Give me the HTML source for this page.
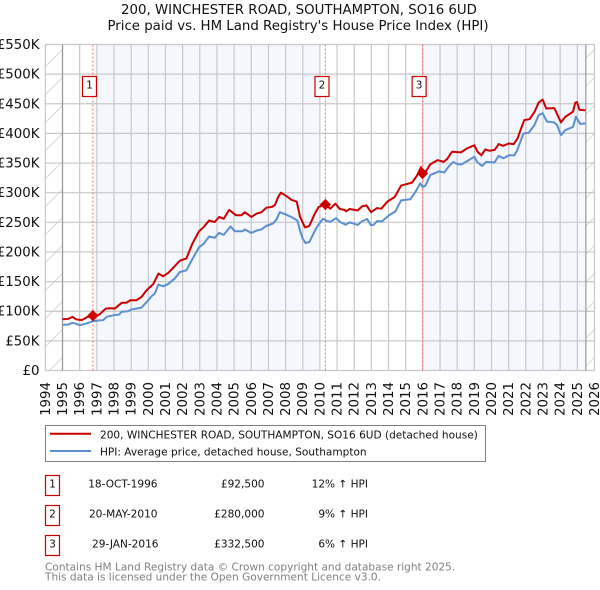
<!DOCTYPE html>
<html>
<head>
<meta charset="utf-8">
<title>200, WINCHESTER ROAD, SOUTHAMPTON, SO16 6UD</title>
<style>
html,body{margin:0;padding:0;background:#fff;}
body{width:600px;height:590px;overflow:hidden;}
svg{display:block;}
text{font-family:"DejaVu Sans","Liberation Sans",sans-serif;}
</style>
</head>
<body>
<svg id="chart" xmlns="http://www.w3.org/2000/svg" width="600" height="590" viewBox="0 0 600 590">
  <defs>
    <pattern id="hatch" patternUnits="userSpaceOnUse" width="28" height="28">
      <line x1="0" y1="28" x2="28" y2="0" stroke="#d8d8d8" stroke-width="1"/>
    </pattern>
  </defs>
  <text x="299" y="14" text-anchor="middle" font-size="13.33" fill="#111">200, WINCHESTER ROAD, SOUTHAMPTON, SO16 6UD</text>
  <text x="298" y="30" text-anchor="middle" font-size="13.33" fill="#111">Price paid vs. HM Land Registry's House Price Index (HPI)</text>
  <g id="bands"></g>
  <g id="grid"></g>
  <g id="saleLines"></g>
  <g id="series"></g>
  <g id="saleMarks"></g>
  <g id="ticks"></g>

  <rect x="45.5" y="425.5" width="440" height="36" fill="#fff" stroke="#808080" stroke-width="1"/>
  <line x1="50" y1="433.7" x2="91" y2="433.7" stroke="#cc0000" stroke-width="2"/>
  <text x="100" y="438.3" font-size="10.55" fill="#111">200, WINCHESTER ROAD, SOUTHAMPTON, SO16 6UD (detached house)</text>
  <line x1="50" y1="451" x2="91" y2="451" stroke="#5b8fd0" stroke-width="2"/>
  <text x="100" y="455.3" font-size="10.55" fill="#111">HPI: Average price, detached house, Southampton</text>

  <g id="saleTable" font-size="10.55" fill="#111"></g>

  <text x="45" y="570.5" font-size="10.55" fill="#808080">Contains HM Land Registry data © Crown copyright and database right 2025.</text>
  <text x="45" y="580.5" font-size="10.55" fill="#808080">This data is licensed under the Open Government Licence v3.0.</text>
</svg>
<script>
const yearTicks = [1994,1995,1996,1997,1998,1999,2000,2001,2002,2003,2004,2005,2006,2007,2008,2009,2010,2011,2012,2013,2014,2015,2016,2017,2018,2019,2020,2021,2022,2023,2024,2025,2026];
const priceTicks = [0,50,100,150,200,250,300,350,400,450,500,550];
const priceTickLabels = ["£0","£50K","£100K","£150K","£200K","£250K","£300K","£350K","£400K","£450K","£500K","£550K"];

const hpiDates = [1995,1995.33,1995.58,1995.78,1996,1996.36,1996.75,1997.17,1997.37,1997.6,1998.05,1998.3,1998.44,1998.83,1999.02,1999.41,1999.6,1999.89,2000.18,2000.38,2000.59,2000.86,2001.16,2001.54,2001.83,2002.22,2002.51,2002.96,2003.23,2003.54,2003.87,2004.13,2004.4,2004.79,2005.04,2005.52,2005.62,2006.01,2006.3,2006.59,2006.88,2007.27,2007.47,2007.66,2007.99,2008.34,2008.69,2008.86,2009,2009.16,2009.39,2009.54,2009.8,2010.07,2010.18,2010.42,2010.61,2010.94,2011.19,2011.49,2011.74,2012.05,2012.2,2012.46,2012.75,2012.98,2013.14,2013.33,2013.62,2014.03,2014.4,2014.73,2015.27,2015.56,2015.85,2015.99,2016.15,2016.44,2016.96,2017.25,2017.5,2017.76,2018.05,2018.24,2018.57,2019,2019.16,2019.45,2019.7,2020.17,2020.42,2020.71,2021,2021.33,2021.49,2021.68,2021.87,2022.17,2022.5,2022.75,2022.98,2023.23,2023.66,2023.82,2024.05,2024.3,2024.75,2024.92,2025.17,2025.47];
const hpiValues = [77,77.5,80.5,79,76.5,79,83,84.5,85,91,93.5,94.5,99,100,103,105,106,115,125,130,145,142,146,155,166,169,185,208,214,226,224,232,229,243,235,235,238,232,236,238,244,248,255,267,263.5,259,253,234,222.5,215,217,226,241,252,256,252,251,257,250.5,246,250,247,245.5,252,255.5,245,246,252,251.5,262,268.5,287,289,301,316,309.5,312,330,336,334,344,351.7,348,347.5,353,360.7,352,345,352,351,362,358,363,363,371,386,400,401,414,431,434,420,418.5,414,397,405.6,411,428,416,417];

const paidDates = [1995,1995.33,1995.58,1995.78,1996.11,1996.44,1996.75,1996.98,1997.17,1997.52,1997.76,1998.05,1998.44,1998.73,1998.96,1999.31,1999.6,1999.89,2000.28,2000.59,2000.86,2001.16,2001.54,2001.83,2002.22,2002.57,2002.96,2003.23,2003.54,2003.87,2004.13,2004.4,2004.71,2005.1,2005.43,2005.62,2006.01,2006.3,2006.59,2006.88,2007.2,2007.38,2007.57,2007.73,2008.06,2008.35,2008.65,2008.84,2009.13,2009.38,2009.71,2009.93,2010.33,2010.61,2010.9,2011.16,2011.45,2011.52,2011.74,2012.2,2012.46,2012.71,2012.98,2013.33,2013.58,2013.95,2014.36,2014.73,2015.37,2015.66,2015.89,2015.99,2016.15,2016.44,2016.86,2017.21,2017.41,2017.7,2018.22,2018.57,2019,2019.19,2019.41,2019.64,2019.87,2020.18,2020.42,2020.67,2021,2021.29,2021.52,2021.72,2021.91,2022.22,2022.51,2022.75,2022.98,2023.19,2023.66,2023.85,2024.05,2024.3,2024.75,2024.88,2024.98,2025.12,2025.47];
const paidValues = [86.5,87,90.5,86.5,85,90,92.5,92,95,104.5,105,104.5,114,114.5,118.5,118.5,124,135,145.5,163.5,159,164.6,176,185,189,214,235,242,253,250.5,259,256,271,262,262,267,259,264.6,267,274.7,276,279,293,300,294,287.7,285,259.5,241.6,243.8,265,276,280,273,281.5,272.5,271,268.5,272.5,270,277,278.6,267,274,273,285.4,292.7,312,317,329,343,333.7,335,348,355,352,356.7,369,368,374.7,380,369,363,373,370.8,372,382,379,383,382,391.6,408,422.5,424,436.5,452,457,442,442.7,431,418.5,428,436.5,451.7,453,440,439];

const saleLabels = ["1","2","3"];
const saleDates = [1996.77,2010.32,2015.98];
const salePrices = [92.5,280,332.5];
const saleDateText = ["18-OCT-1996","20-MAY-2010","29-JAN-2016"];
const salePriceText = ["£92,500","£280,000","£332,500"];
const saleHpiText = ["12% ↑ HPI","9% ↑ HPI","6% ↑ HPI"];
const shadedBands = [[1997,2010],[2016,2025.5]];
const dataStart = 1995;
const dataEnd = 2025.5;

const NS = "http://www.w3.org/2000/svg";
const X0 = 62.5, PX_PER_YEAR = 17.16, Y0 = 370.5, PX_PER_K = 326 / 550;
function xAxis(year){ return X0 + (year - 1995) * PX_PER_YEAR; }
function yAxis(k){ return Y0 - k * PX_PER_K; }
function make(tag, attrs, parent, text){
  const el = document.createElementNS(NS, tag);
  for (const k in attrs) el.setAttribute(k, attrs[k]);
  if (text !== undefined) el.textContent = text;
  parent.appendChild(el);
  return el;
}
const L = xAxis(1994), R = xAxis(2026), T = yAxis(550), B = yAxis(0);

const bands = document.getElementById("bands");
shadedBands.forEach(function(b){
  const el = make("rect", {x:xAxis(b[0]), y:T, width:xAxis(b[1])-xAxis(b[0]), height:B-T, fill:"#f4f7fe"}, bands);
  
  
});
const hl = make("rect", {x:L, y:T, width:xAxis(dataStart)-L, height:B-T, fill:"url(#hatch)"}, bands);


const hr = make("rect", {x:xAxis(dataEnd), y:T, width:R-xAxis(dataEnd), height:B-T, fill:"url(#hatch)"}, bands);



const grid = document.getElementById("grid");
yearTicks.forEach(function(y){
  const el = make("line", {x1:xAxis(y), x2:xAxis(y), y1:T, y2:B, stroke:"#c8c8c8", "stroke-width":1.2}, grid);
  
  
});
priceTicks.forEach(function(p){
  const el = make("line", {x1:L, x2:R, y1:yAxis(p), y2:yAxis(p), stroke:"#c8c8c8", "stroke-width":1.2}, grid);
  
  
});
[dataStart, dataEnd].forEach(function(y){
  const el = make("line", {x1:xAxis(y), x2:xAxis(y), y1:T, y2:B, stroke:"#999999", "stroke-width":1.2}, grid);
  
  
});

const saleLines = document.getElementById("saleLines");
saleDates.forEach(function(d){
  const el = make("line", {x1:xAxis(d), x2:xAxis(d), y1:T, y2:B, stroke:"#ff6a6a", "stroke-width":1, "stroke-dasharray":"2 2"}, saleLines);
  
  
});

const series = document.getElementById("series");
function linePath(dates, values){
  return dates.map(function(d,i){ return (i ? "L" : "M") + xAxis(d).toFixed(2) + " " + yAxis(values[i]).toFixed(2); }).join("");
}
const hpiLine = make("path", {d:linePath(hpiDates,hpiValues), fill:"none", stroke:"#5b8fd0", "stroke-width":2, "stroke-linejoin":"round"}, series);


const paidLine = make("path", {d:linePath(paidDates,paidValues), fill:"none", stroke:"#cc0000", "stroke-width":2, "stroke-linejoin":"round"}, series);



const saleMarks = document.getElementById("saleMarks");
saleDates.forEach(function(d,i){
  const cx = xAxis(d), cy = yAxis(salePrices[i]), r = 4.8;
  const m = make("polygon", {points:(cx)+","+(cy-r)+" "+(cx+r)+","+cy+" "+cx+","+(cy+r)+" "+(cx-r)+","+cy, fill:"#cc0000", stroke:"#cc0000", "stroke-width":1.2}, saleMarks);
  
  
  const bx = cx - 10.4;
  const box = make("rect", {x:bx, y:76.5, width:14, height:20, fill:"#fff", stroke:"#cc0000", "stroke-width":1.2}, saleMarks);
  
  
  const t = make("text", {x:bx+7, y:88.5, "text-anchor":"middle", "font-size":"10.55", fill:"#111"}, saleMarks, saleLabels[i]);
  
  
});

const ticks = document.getElementById("ticks");
priceTicks.forEach(function(p,i){
  const t = make("text", {x:39.5, y:yAxis(p)+4.5, "text-anchor":"end", "font-size":"13.33", fill:"#111"}, ticks, priceTickLabels[i]);
  
  
});
yearTicks.forEach(function(y){
  const px = xAxis(y) + 4.5;
  const t = make("text", {x:0, y:0, transform:"translate("+px+",382) rotate(-90)", "text-anchor":"end", "font-size":"13.33", fill:"#111"}, ticks, String(y));
  
  
});

const table = document.getElementById("saleTable");
const rowTops = [475.5, 505.5, 535.5];
saleLabels.forEach(function(label,i){
  const y = rowTops[i];
  const box = make("rect", {x:45.5, y:y, width:14, height:20, fill:"#fff", stroke:"#cc0000", "stroke-width":1.2}, table);
  
  
  const n = make("text", {x:52.5, y:y+11.8, "text-anchor":"middle"}, table, label);
  
  
  const d = make("text", {x:i===2?158.5:157.5, y:y+11.8, "text-anchor":"end"}, table, saleDateText[i]);
  
  
  const p = make("text", {x:264.5, y:y+11.8, "text-anchor":"end"}, table, salePriceText[i]);
  
  
  const h = make("text", {x:368, y:y+11.8, "text-anchor":"end"}, table, saleHpiText[i]);
  
  
});
</script>
</body>
</html>
